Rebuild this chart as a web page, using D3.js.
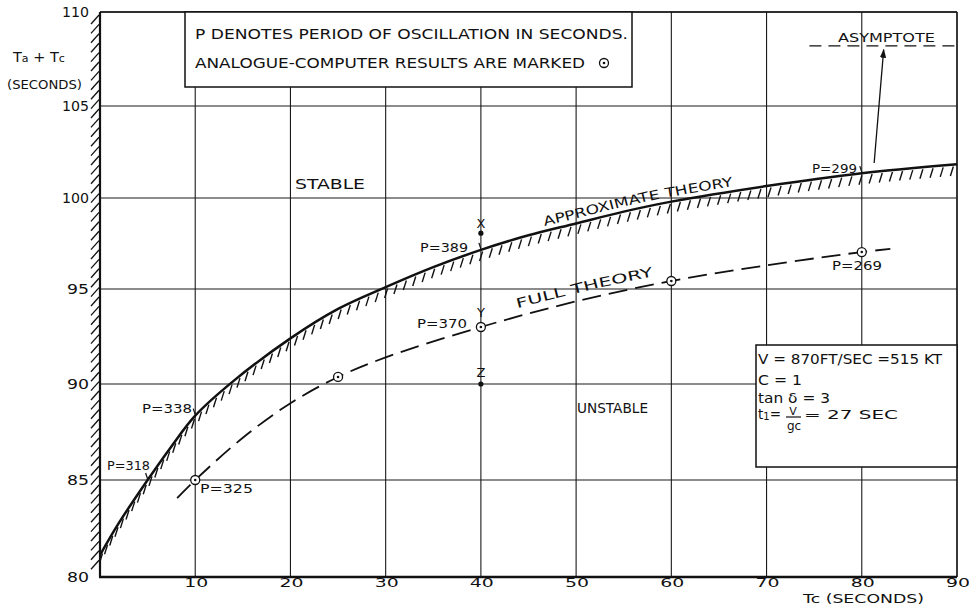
<!DOCTYPE html>
<html><head><meta charset="utf-8">
<script src="https://cdn.jsdelivr.net/npm/d3@7"></script>
<style>
html,body{margin:0;padding:0;background:#fff;}
svg{display:block;}
text{font-family:"DejaVu Sans",sans-serif;fill:#111;}
</style></head><body>
<svg id="chart" width="969" height="609"></svg>
<script>
// ---------- data ----------
const xTicks = [10, 20, 30, 40, 50, 60, 70, 80, 90];
const yTicks = [80, 85, 90, 95, 100, 105, 110];
const approxTc = [0, 2, 5, 7.5, 10, 14, 20, 25, 30, 35, 40, 45, 50, 55, 60, 70, 80, 90];
const approxT  = [81.13, 82.8, 85.0, 86.75, 88.35, 90.15, 92.4, 93.95, 95.1, 96.2, 97.15, 97.95, 98.6, 99.25, 99.8, 100.65, 101.35, 101.84];
const fullTc = [8.1, 10, 15, 20, 25, 30, 40, 50, 60, 70, 80, 83];
const fullT  = [84.07, 85.0, 87.2, 89.0, 90.37, 91.4, 93.0, 94.35, 95.44, 96.3, 97.03, 97.2];
const analogueTc = [10, 25, 40, 60, 80];
const analogueT  = [85.0, 90.37, 93.0, 95.44, 97.03];
const asymptoteT = 108.2;
const markerTc = 40;
const markerLetters = ["X", "Y", "Z"];
const markerLetterT = [98.6, 93.75, 90.6];
const markerDotT = [98.07, 90.0];
const periodLabels = ["P=318", "P=338", "P=389", "P=299", "P=325", "P=370", "P=269"];
const paramLines = ["V = 870FT/SEC =515 KT", "C = 1", "tan δ = 3"];

// ---------- scales ----------
const svg = d3.select("#chart");
const x = d3.scaleLinear().domain([0, 90]).range([100, 957]);
// piecewise scale follows the printed grid spacing
const y = d3.scaleLinear().domain(yTicks).range([577, 480, 384, 289, 198, 106, 12]);

function wide(sel, len) {
  return sel.attr("textLength", len).attr("lengthAdjust", "spacingAndGlyphs");
}

// ---------- grid ----------
const grid = svg.append("g").attr("stroke", "#1a1a1a").attr("stroke-width", 1.1);
grid.selectAll("line.v").data(xTicks).join("line")
  .attr("x1", d => x(d)).attr("x2", d => x(d)).attr("y1", y(110)).attr("y2", y(80));
grid.selectAll("line.h").data(yTicks).join("line")
  .attr("x1", x(0)).attr("x2", x(90)).attr("y1", d => y(d)).attr("y2", d => y(d));

// frame
svg.append("line").attr("x1", x(0)).attr("x2", x(90)).attr("y1", y(110)).attr("y2", y(110)).attr("stroke", "#111").attr("stroke-width", 1.4);
svg.append("line").attr("x1", x(90)).attr("x2", x(90)).attr("y1", y(110)).attr("y2", y(80)).attr("stroke", "#111").attr("stroke-width", 1.3);
svg.append("line").attr("x1", x(0)).attr("x2", x(0)).attr("y1", y(110)).attr("y2", y(80)).attr("stroke", "#111").attr("stroke-width", 2.2);
svg.append("line").attr("x1", x(0) - 1).attr("x2", x(90)).attr("y1", y(80)).attr("y2", y(80)).attr("stroke", "#111").attr("stroke-width", 2.4);

// left axis hatching
const hatchY = d3.range(y(110) + 3, y(80) - 10, 9.4);
svg.append("g").attr("stroke", "#111").attr("stroke-width", 1.3)
  .selectAll("line").data(hatchY).join("line")
  .attr("x1", x(0) - 1).attr("y1", d => d)
  .attr("x2", x(0) - 9).attr("y2", d => d + 9);

// ---------- boxes ----------
svg.append("rect").attr("x", 185).attr("y", y(110)).attr("width", 447).attr("height", 75)
  .attr("fill", "#fff").attr("stroke", "#111").attr("stroke-width", 1.5);
svg.append("rect").attr("x", 756).attr("y", 345).attr("width", x(90) - 756).attr("height", 122)
  .attr("fill", "#fff").attr("stroke", "#111").attr("stroke-width", 1.5);

// ---------- axis labels ----------
svg.append("g").selectAll("text").data(yTicks).join("text")
  .attr("x", 89).attr("y", d => y(d)).attr("dy", "0.36em")
  .attr("text-anchor", "end").attr("font-size", 14)
  .attr("textLength", d => String(d).length === 3 ? 27 : 22).attr("lengthAdjust", "spacingAndGlyphs")
  .text(d => d);
svg.append("g").selectAll("text").data(xTicks).join("text")
  .attr("x", d => x(d) + 1).attr("y", 587)
  .attr("text-anchor", "middle").attr("font-size", 13)
  .attr("textLength", 24).attr("lengthAdjust", "spacingAndGlyphs")
  .text(d => d);

const ta = svg.append("text").attr("x", 13).attr("y", 62).attr("font-size", 14.5);
ta.append("tspan").text("T");
ta.append("tspan").attr("font-size", 11).text("a");
ta.append("tspan").text(" + T");
ta.append("tspan").attr("font-size", 11).text("c");
wide(svg.append("text").attr("x", 7).attr("y", 89).attr("font-size", 13), 75).text("(SECONDS)");
wide(svg.append("text").attr("x", 803).attr("y", 603).attr("font-size", 12.5), 121).text("Tc (SECONDS)");

// ---------- legend box text ----------
wide(svg.append("text").attr("x", 195).attr("y", 39).attr("font-size", 13.5), 433)
  .text("P DENOTES PERIOD OF OSCILLATION  IN SECONDS.");
wide(svg.append("text").attr("x", 195).attr("y", 68).attr("font-size", 13.5), 390)
  .text("ANALOGUE-COMPUTER RESULTS ARE MARKED");
svg.append("circle").attr("cx", 604).attr("cy", 63).attr("r", 4.5).attr("fill", "none").attr("stroke", "#111").attr("stroke-width", 1.3);
svg.append("circle").attr("cx", 604).attr("cy", 63).attr("r", 1.3).attr("fill", "#111");

// ---------- parameter box text ----------
const pl = [364, 385, 403];
const plLen = [184, 44, 72];
paramLines.forEach((t, i) => {
  wide(svg.append("text").attr("x", 758).attr("y", pl[i]).attr("font-size", 13.5), plLen[i]).text(t);
});
const t1 = svg.append("text").attr("x", 758).attr("y", 419).attr("font-size", 13.5);
t1.append("tspan").text("t");
t1.append("tspan").attr("font-size", 10).attr("dy", 1).text("1");
t1.append("tspan").attr("dy", -1).text("=");
svg.append("text").attr("x", 793).attr("y", 415).attr("font-size", 11).attr("text-anchor", "middle").text("V");
svg.append("line").attr("x1", 786).attr("x2", 801).attr("y1", 417).attr("y2", 417).attr("stroke", "#111").attr("stroke-width", 1.2);
svg.append("text").attr("x", 794).attr("y", 430).attr("font-size", 12).attr("text-anchor", "middle").text("gc");
wide(svg.append("text").attr("x", 804).attr("y", 419).attr("font-size", 12.5), 94).text("= 27  SEC");

// ---------- curves ----------
const approxData = approxTc.map((d, i) => [d, approxT[i]]);
const fullData = fullTc.map((d, i) => [d, fullT[i]]);
const lineGen = d3.line().x(d => x(d[0])).y(d => y(d[1])).curve(d3.curveCatmullRom.alpha(0.5));

const approxPath = svg.append("path").attr("d", lineGen(approxData))
  .attr("fill", "none").attr("stroke", "#111").attr("stroke-width", 2.5);
const fullPath = svg.append("path").attr("d", lineGen(fullData))
  .attr("fill", "none").attr("stroke", "#111").attr("stroke-width", 1.8)
  .attr("stroke-dasharray", "19,8");

// hatching below approximate theory curve
const ap = approxPath.node();
const apLen = ap.getTotalLength();
const hatchPts = d3.range(4, apLen - 2, 10.2).map(l => ap.getPointAtLength(l));
svg.append("g").attr("stroke", "#111").attr("stroke-width", 1.4)
  .selectAll("line").data(hatchPts).join("line")
  .attr("x1", p => p.x + 0.5).attr("y1", p => p.y + 2)
  .attr("x2", p => p.x - 2.5).attr("y2", p => p.y + 11.5);

// text along curves (offset path built from the drawn curve)
function offsetPath(node, xmin, xmax, off) {
  const L = node.getTotalLength();
  const pts = [];
  for (let l = 0; l <= L; l += 2) {
    const p = node.getPointAtLength(l);
    if (p.x < xmin || p.x > xmax) continue;
    const q = node.getPointAtLength(Math.min(L, l + 1));
    const r = node.getPointAtLength(Math.max(0, l - 1));
    const dx = q.x - r.x, dy = q.y - r.y, n = Math.hypot(dx, dy) || 1;
    pts.push([p.x + dy / n * off, p.y - dx / n * off]);
  }
  return "M" + pts.map(p => p[0].toFixed(1) + "," + p[1].toFixed(1)).join("L");
}
const defs = svg.append("defs");
defs.append("path").attr("id", "apxText").attr("d", offsetPath(ap, 545, 790, 5));
defs.append("path").attr("id", "fullText").attr("d", offsetPath(fullPath.node(), 518, 720, 8));
svg.append("text").attr("font-size", 13)
  .append("textPath").attr("href", "#apxText").attr("textLength", 193).attr("lengthAdjust", "spacingAndGlyphs")
  .text("APPROXIMATE  THEORY");
svg.append("text").attr("font-size", 13)
  .append("textPath").attr("href", "#fullText").attr("textLength", 140).attr("lengthAdjust", "spacingAndGlyphs")
  .text("FULL   THEORY");

// asymptote
svg.append("line").attr("x1", x(74.5)).attr("x2", x(90)).attr("y1", y(asymptoteT)).attr("y2", y(asymptoteT))
  .attr("stroke", "#111").attr("stroke-width", 1.3).attr("stroke-dasharray", "12,7");
wide(svg.append("text").attr("x", 838).attr("y", 42).attr("font-size", 13), 97).text("ASYMPTOTE");
defs.append("marker").attr("id", "arr").attr("viewBox", "0 0 10 10").attr("refX", 9).attr("refY", 5)
  .attr("markerWidth", 9).attr("markerHeight", 9).attr("markerUnits", "userSpaceOnUse").attr("orient", "auto")
  .append("path").attr("d", "M0,1.5L10,5L0,8.5Z").attr("fill", "#111");
svg.append("line").attr("x1", x(81.3)).attr("y1", y(101.9)).attr("x2", x(82.3)).attr("y2", y(108.0))
  .attr("stroke", "#111").attr("stroke-width", 1.3).attr("marker-end", "url(#arr)");

// analogue-computer results
const ag = svg.append("g");
ag.selectAll("circle.o").data(analogueTc).join("circle")
  .attr("cx", d => x(d)).attr("cy", (d, i) => y(analogueT[i])).attr("r", 4.5)
  .attr("fill", "#fff").attr("stroke", "#111").attr("stroke-width", 1.3);
ag.selectAll("circle.d").data(analogueTc).join("circle")
  .attr("cx", d => x(d)).attr("cy", (d, i) => y(analogueT[i])).attr("r", 1.3).attr("fill", "#111");

// X, Y, Z markers
svg.append("g").selectAll("text").data(markerLetters).join("text")
  .attr("x", x(markerTc)).attr("y", (d, i) => y(markerLetterT[i])).attr("dy", "0.36em")
  .attr("text-anchor", "middle").attr("font-size", 13).text(d => d);
svg.append("g").selectAll("circle").data(markerDotT).join("circle")
  .attr("cx", x(markerTc)).attr("cy", d => y(d)).attr("r", 2.6).attr("fill", "#111");

// region labels
wide(svg.append("text").attr("x", 295).attr("y", 189).attr("font-size", 14), 70).text("STABLE");
wide(svg.append("text").attr("x", 577).attr("y", 413).attr("font-size", 13.5), 71).text("UNSTABLE");

// period labels
const pPos = [[107, 470, 43], [142, 413, 50], [420, 252, 48], [812, 173, 45], [200, 493, 53], [417, 328, 50], [832, 270, 50]];
svg.append("g").selectAll("text").data(periodLabels).join("text")
  .attr("x", (d, i) => pPos[i][0]).attr("y", (d, i) => pPos[i][1])
  .attr("font-size", 13).attr("lengthAdjust", "spacingAndGlyphs")
  .attr("textLength", (d, i) => pPos[i][2]).text(d => d);

// leader ticks from labels to the approximate curve
const leadTc = [5, 10, 40, 80];
const leadT = [85.0, 88.35, 97.15, 101.35];
svg.append("g").attr("stroke", "#111").attr("stroke-width", 1.2)
  .selectAll("line").data(leadTc).join("line")
  .attr("x1", d => x(d) - 2).attr("y1", (d, i) => y(leadT[i]) - 7)
  .attr("x2", d => x(d)).attr("y2", (d, i) => y(leadT[i]) - 1);
</script>
</body></html>
